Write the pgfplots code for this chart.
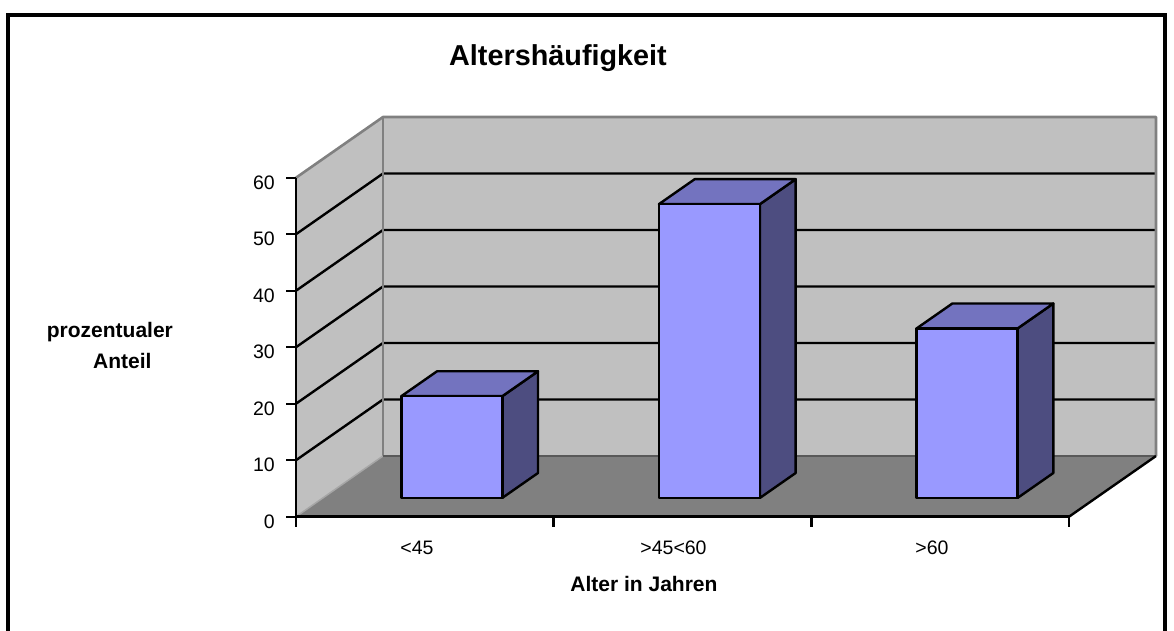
\documentclass[border=0pt]{standalone}
\usepackage{pgfplots}
\pgfplotsset{compat=1.18}
\usepackage{pgfplotstable}
\usepackage{fontspec}
\setmainfont{Liberation Sans}
\definecolor{wall}{HTML}{C0C0C0}
\definecolor{floorc}{HTML}{808080}
\definecolor{edge}{HTML}{808080}
\definecolor{barfront}{HTML}{9999FF}
\definecolor{bartop}{HTML}{7373BF}
\definecolor{barside}{HTML}{4D4D80}
\pgfplotstableread{
x v
0.5 18
1.5 52
2.5 30
}\agedata
\begin{document}
\begin{tikzpicture}
\path[use as bounding box] (-296pt,-113.3pt) rectangle (878pt,516.7pt);
\draw[line width=3.5pt] (-288pt,-116pt) -- (-288pt,501.7pt) -- (869pt,501.7pt) -- (869pt,-116pt);
\begin{axis}[
  at={(0pt,0pt)}, anchor=origin,
  width=773pt, height=339pt, scale only axis,
  xmin=0, xmax=3, ymin=0, ymax=60,
  axis x line=bottom, axis y line=left,
  axis line style={-, line width=2.6pt, black},
  clip=false, axis on top,
  xtick={0,1,2,3}, xticklabels={},
  ytick={0,10,...,60},
  tick align=outside, major tick length=10pt,
  tick style={black, line width=2.4pt},
  /pgf/number format/assume math mode=true,
  yticklabel style={font=\fontsize{19.5}{22}\selectfont, anchor=east, inner sep=0pt, xshift=-11pt, yshift=-5pt},
]
\fill[wall] (0,0) -- (0,60) -- (0.3376,70.743) -- (0.3376,10.743) -- cycle;
\fill[wall] (0.3376,10.743) rectangle (3.3376,70.743);
\fill[floorc] (0,0) -- (3,0) -- (3.3376,10.743) -- (0.3376,10.743) -- cycle;
\draw[black, line width=2.4pt] (0,10) -- (0.3376,20.743) -- (3.3376,20.743);
\draw[black, line width=2.4pt] (0,20) -- (0.3376,30.743) -- (3.3376,30.743);
\draw[black, line width=2.4pt] (0,30) -- (0.3376,40.743) -- (3.3376,40.743);
\draw[black, line width=2.4pt] (0,40) -- (0.3376,50.743) -- (3.3376,50.743);
\draw[black, line width=2.4pt] (0,50) -- (0.3376,60.743) -- (3.3376,60.743);
\draw[edge, line width=2.6pt, line join=round] (0,60) -- (0.3376,70.743) -- (3.3376,70.743) -- (3.3376,10.743);
\draw[edge, line width=2.6pt] (0.3376,10.743) -- (0.3376,70.743);
\draw[edge!70!white, line width=1.5pt] (0,0) -- (0.3376,10.743);
\draw[black!65, line width=2pt] (0.3376,10.743) -- (3.3376,10.743);
\draw[black, line width=2.4pt] (3,0) -- (3.3376,10.743);
\addplot[scatter, only marks, mark=text, text mark={},
  visualization depends on={\thisrow{v} \as \val},
  scatter/@pre marker code/.code={%
    \pgfmathsetmacro{\barh}{\val*5.65}%
    \pgfmathsetmacro{\barhb}{24.9-\val*5.65}%
    \filldraw[barside, draw=black, line width=2.4pt, line join=round]
      (101pt,0pt) -- (136.7pt,24.9pt) -- (136.7pt,\barhb pt) -- (101pt,-\barh pt) -- cycle;
    \filldraw[bartop, draw=black, line width=2.4pt, line join=round]
      (0pt,0pt) -- (35.7pt,24.9pt) -- (136.7pt,24.9pt) -- (101pt,0pt) -- cycle;
    \filldraw[barfront, draw=black, line width=2.4pt, line join=round]
      (0pt,0pt) rectangle (101pt,-\barh pt);
  },
  scatter/@post marker code/.code={},
] table[x expr=\thisrow{x}-0.0913, y expr=\thisrow{v}+3.33] {\agedata};
\end{axis}
\node[font=\bfseries\fontsize{28.8}{34}\selectfont, anchor=base, inner sep=0pt] at (262pt,450.7pt) {Altershäufigkeit};
\node[font=\fontsize{19.5}{22}\selectfont, anchor=base, inner sep=0pt] at (121pt,-37.3pt) {<45};
\node[font=\fontsize{19.5}{22}\selectfont, anchor=base, inner sep=0pt] at (377.5pt,-37.3pt) {>45<60};
\node[font=\fontsize{19.5}{22}\selectfont, anchor=base, inner sep=0pt] at (636pt,-37.3pt) {>60};
\node[font=\bfseries\fontsize{21}{25}\selectfont, anchor=base, inner sep=0pt] at (348pt,-75pt) {Alter in Jahren};
\node[font=\bfseries\fontsize{21}{25}\selectfont, anchor=base west, inner sep=0pt] at (-249.3pt,179.7pt) {prozentualer};
\node[font=\bfseries\fontsize{21}{25}\selectfont, anchor=base west, inner sep=0pt] at (-203pt,148.4pt) {Anteil};
\end{tikzpicture}
\end{document}
